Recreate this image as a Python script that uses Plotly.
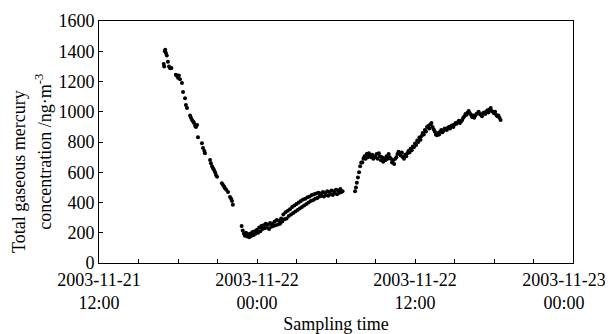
import pandas as pd
import plotly.graph_objects as go

# Segment 1: evening decline (irregular sampling)
seg1_times = ["16:55", "16:57", "17:00", "17:02", "17:05", "17:09", "17:14", "17:19", "17:24", "17:30",
              "17:50", "17:55", "18:00", "18:04", "18:09", "18:18", "18:23", "18:32", "18:36", "18:41",
              "18:55", "18:59", "19:04", "19:09", "19:13", "19:18", "19:22", "19:27", "19:31", "19:49",
              "19:54", "20:00", "20:03", "20:26", "20:30", "20:35", "20:40", "20:44", "20:49", "20:53",
              "20:58", "21:20", "21:25", "21:30", "21:34", "21:40", "21:48", "21:57", "22:02", "22:06", "22:10"]
seg1_values = [1315, 1300, 1400, 1410, 1388, 1372, 1330, 1300, 1288, 1290,
               1245, 1238, 1225, 1240, 1215, 1190, 1130, 1090, 1045, 1025,
               975, 960, 945, 935, 925, 905, 900, 912, 832, 792,
               760, 740, 726, 681, 660, 640, 625, 615, 600, 582,
               570, 528, 515, 505, 495, 485, 470, 437, 425, 410, 385]

# Segment 2: overnight rise, 5-minute sampling from 2003-11-21 22:50
seg2_start = "2003-11-21 22:50"
seg2_values = [245, 215, 195, 180, 200, 175, 190, 170, 195, 180, 205, 185, 210, 195, 220, 200,
               235, 210, 245, 225, 250, 230, 260, 235, 255, 225, 265, 240, 260, 245, 275, 250,
               285, 255, 280, 260, 295, 275, 320, 290, 335, 295, 345, 310, 355, 320, 370, 330,
               380, 340, 390, 350, 400, 360, 410, 370, 420, 380, 425, 390, 435, 400, 440, 410,
               450, 415, 455, 425, 460, 430, 465, 440, 460, 445, 470, 440, 465, 450, 475, 445,
               470, 455, 480, 450, 475, 460, 485, 455, 480, 465, 490, 470, 475]

# Transition points in the morning
seg_gap_times = ["07:27", "07:31", "07:35", "07:40", "07:45", "07:50", "07:55"]
seg_gap_values = [475, 500, 530, 565, 600, 640, 665]

# Segment 3: daytime rise, 5-minute sampling from 2003-11-22 08:00
seg3_start = "2003-11-22 08:00"
seg3_values = [665, 690, 705, 690, 720, 700, 725, 710, 700, 715, 690, 705,
               700, 720, 690, 725, 705, 680, 700, 670, 690, 680, 705, 690,
               720, 700, 690, 665, 680, 655, 690, 700, 720, 735, 725, 710,
               730, 700, 690, 715, 705, 725, 740, 730, 755, 745, 770, 765,
               790, 780, 810, 800, 830, 815, 840, 860, 850, 880, 870, 900,
               905, 890, 915, 925, 900, 885, 870, 850, 845, 860, 850, 870,
               880, 865, 875, 890, 885, 880, 895, 900, 890, 905, 910, 900,
               915, 925, 920, 930, 940, 925, 935, 945, 960, 970, 985, 980,
               995, 1005, 990, 980, 965, 975, 960, 975, 985, 990, 1000, 985,
               980, 970, 990, 995, 985, 1000, 1010, 995, 1015, 1025, 1005, 1000,
               990, 1000, 980, 970, 975, 960, 945]

x_tickvals = ["2003-11-21 12:00", "2003-11-22 00:00", "2003-11-22 12:00", "2003-11-23 00:00"]
x_ticktext = ["2003-11-21<br>12:00", "2003-11-22<br>00:00", "2003-11-22<br>12:00",
              "2003-11-23\u00a0\u00a0\u00a0\u00a0<br>00:00\u00a0\u00a0\u00a0\u00a0"]
y_tickvals = [0, 200, 400, 600, 800, 1000, 1200, 1400, 1600]

t1 = pd.to_datetime(["2003-11-21 " + t for t in seg1_times])
t2 = pd.date_range(seg2_start, periods=len(seg2_values), freq="5min")
tg = pd.to_datetime(["2003-11-22 " + t for t in seg_gap_times])
t3 = pd.date_range(seg3_start, periods=len(seg3_values), freq="5min")

x_all = list(t1) + list(t2) + list(tg) + list(t3)
y_all = seg1_values + seg2_values + seg_gap_values + seg3_values

font = "Liberation Serif"
fig = go.Figure()
fig.add_trace(go.Scatter(x=x_all, y=y_all, mode="markers",
                         marker=dict(color="black", size=4, line=dict(width=0)),
                         showlegend=False))

# page body adds an 8px offset, so the figure is 8px smaller and margins compensate
fig.update_layout(
    width=605, height=326,
    margin=dict(l=91, r=40, t=13, b=71),
    paper_bgcolor="white", plot_bgcolor="white",
    font=dict(family=font, size=18, color="black"),
    xaxis=dict(
        type="date", automargin=False,
        range=["2003-11-21 12:00", "2003-11-23 00:00"],
        tickvals=x_tickvals, ticktext=x_ticktext,
        ticklabeloverflow="allow",
        ticks="inside", ticklen=4, tickwidth=1, tickcolor="black",
        minor=dict(dtick=3 * 3600 * 1000, tick0="2003-11-21 12:00", ticks="inside", ticklen=4,
                   tickcolor="black", showgrid=False),
        showline=True, linecolor="black", linewidth=1, mirror=True,
        showgrid=False, zeroline=False,
        tickfont=dict(family=font, size=18, color="black"),
        title=dict(text="Sampling time", font=dict(family=font, size=18, color="black"), standoff=6),
    ),
    yaxis=dict(
        range=[0, 1600], automargin=False,
        tickvals=y_tickvals,
        ticks="inside", ticklen=4, tickwidth=1, tickcolor="black",
        showline=True, linecolor="black", linewidth=1, mirror=True,
        showgrid=False, zeroline=False,
        tickfont=dict(family=font, size=18, color="black"),
    ),
    annotations=[
        dict(text="Total gaseous mercury", textangle=-90, xref="paper", yref="paper",
             x=-0.169, y=0.38, xanchor="center", yanchor="middle", showarrow=False,
             font=dict(family=font, size=18, color="black")),
        dict(text="concentration /ng·m<sup>-3</sup>", textangle=-90, xref="paper", yref="paper",
             x=-0.116, y=0.46, xanchor="center", yanchor="middle", showarrow=False,
             font=dict(family=font, size=18, color="black")),
    ],
)

fig.write_html("out.html")
